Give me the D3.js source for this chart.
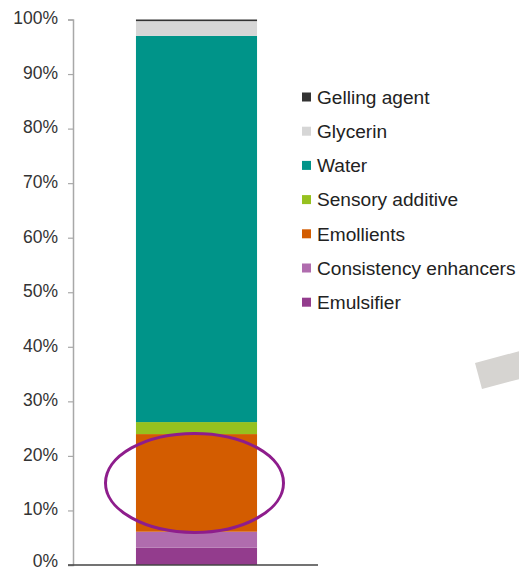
<!DOCTYPE html>
<html><head><meta charset="utf-8">
<script src="https://cdn.jsdelivr.net/npm/d3@7"></script>
<style>body{margin:0;background:#fff}svg{display:block}</style>
</head><body>
<svg id="c" width="519" height="571"></svg>
<script>
// Data (stack order bottom -> top)
const categories = ["Formulation"];
const seriesNames = ["Emulsifier","Consistency enhancers","Emollients","Sensory additive","Water","Glycerin","Gelling agent"];
const seriesValues = [3.2, 2.9, 17.9, 2.2, 70.8, 2.7, 0.3];
const seriesColors = ["#933c8d","#b06cae","#d35c00","#96c11f","#009489","#d6d6d6","#333333"];
const legendOrder = ["Gelling agent","Glycerin","Water","Sensory additive","Emollients","Consistency enhancers","Emulsifier"];
const yTicks = [0,10,20,30,40,50,60,70,80,90,100];
const highlighted = "Emollients";

const svg = d3.select("#c");
const font = "'Liberation Sans', Arial, sans-serif";

const y = d3.scaleLinear().domain([0,100]).range([565,19.5]);
const x = d3.scaleBand().domain(categories).range([73,320]).paddingInner(0).paddingOuter(0.52);

// stacked data
const row = {cat: categories[0]};
seriesNames.forEach((n,i)=> row[n] = seriesValues[i]);
const stack = d3.stack().keys(seriesNames)([row]);

// decorative grey slanted shape (part of a slide arrow)
svg.append("rect")
  .attr("x", 0).attr("y", 0).attr("width", 80).attr("height", 27)
  .attr("fill", "#d6d4d1")
  .attr("transform", "translate(475,363) rotate(-15)");

// bars
svg.append("g").selectAll("rect").data(stack).join("rect")
  .attr("x", x(categories[0]))
  .attr("width", x.bandwidth())
  .attr("y", d => y(d[0][1]))
  .attr("height", d => Math.max(0, y(d[0][0]) - y(d[0][1])))
  .attr("fill", (d,i) => seriesColors[i]);

// y axis
const yAxis = d3.axisLeft(y).tickValues(yTicks).tickFormat(d => d + "%").tickSize(5).tickSizeOuter(5).tickPadding(10);
const gy = svg.append("g").attr("transform","translate(73,0)").call(yAxis);
gy.select(".domain").attr("stroke","#a8a8a8").attr("stroke-width",1.5);
gy.selectAll(".tick line").attr("stroke","#a8a8a8").attr("stroke-width",1.2);
gy.selectAll(".tick text").attr("font-family",font).attr("font-size","17.5px").attr("fill","#333")
  .attr("dy", d => d === 0 ? "0.1em" : "0.25em");

// x axis baseline
svg.append("line").attr("x1",68).attr("x2",318).attr("y1",y(0)).attr("y2",y(0))
  .attr("stroke","#444").attr("stroke-width",1.5);

// highlight ellipse around emollients
const emIdx = seriesNames.indexOf(highlighted);
const emSeg = stack[emIdx][0];
const cx = x(categories[0]) + x.bandwidth()/2 - 2;
const cy = (y(emSeg[0]) + y(emSeg[1]))/2;
svg.append("ellipse")
  .attr("cx", cx).attr("cy", cy)
  .attr("rx", 89).attr("ry", 49.5)
  .attr("fill","none").attr("stroke","#8e1d8c").attr("stroke-width",3);

// legend
const lg = svg.append("g");
const items = lg.selectAll("g").data(legendOrder).join("g")
  .attr("transform",(d,i)=>`translate(302,${97 + i*34.2})`);
items.append("rect").attr("x",0).attr("y",-4.5).attr("width",9).attr("height",9)
  .attr("fill", d => seriesColors[seriesNames.indexOf(d)]);
items.append("text").attr("x",15).attr("dy","0.36em")
  .attr("font-family",font).attr("font-size","19.1px").attr("fill","#222")
  .text(d=>d);
</script>
</body></html>
